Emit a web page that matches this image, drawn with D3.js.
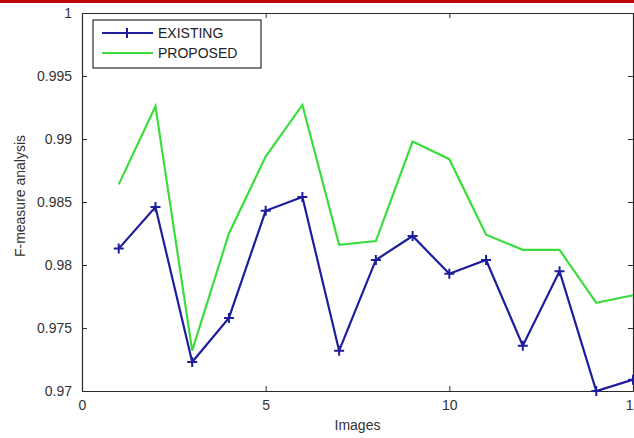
<!DOCTYPE html>
<html>
<head>
<meta charset="utf-8">
<script src="https://cdn.jsdelivr.net/npm/d3@7"></script>
<style>
  body { margin: 0; background: #fff; }
  svg { display: block; font-family: "Liberation Sans", Arial, sans-serif; }
</style>
</head>
<body>
<svg id="chart" width="634" height="438"></svg>
<script>
// image index on x
const images = [1, 2, 3, 4, 5, 6, 7, 8, 9, 10, 11, 12, 13, 14, 15];
const existing = [0.9813, 0.9846, 0.9723, 0.9758, 0.9843, 0.9854, 0.9732, 0.9804, 0.9823, 0.9793, 0.9804, 0.9736, 0.9795, 0.9700, 0.9709];
const proposed = [0.9864, 0.9926, 0.9732, 0.9825, 0.9886, 0.9927, 0.9816, 0.9819, 0.9898, 0.9884, 0.9824, 0.9812, 0.9812, 0.9770, 0.9776];
const xTicks = [0, 5, 10, 15];
const yTicks = [0.97, 0.975, 0.98, 0.985, 0.99, 0.995, 1];
const seriesNames = ["EXISTING", "PROPOSED"];

const svg = d3.select("#chart");
const plotL = 82, plotR = 633, plotT = 13, plotB = 391;

// red rule across the top of the page
svg.append("rect").attr("x", 0).attr("y", 0).attr("width", 634).attr("height", 3).attr("fill", "#c0080c");

var scaleX = d3.scaleLinear().domain([0, 15]).range([plotL, plotR]);
var scaleY = d3.scaleLinear().domain([0.97, 1]).range([plotB, plotT]);

const axisColor = "#2b2b2b";

// bottom axis, ticks pointing inward
const gx = svg.append("g").attr("transform", `translate(0,${plotB})`)
  .call(d3.axisBottom(scaleX).tickValues(xTicks).tickSizeInner(-5).tickSizeOuter(0).tickPadding(9).tickFormat(d3.format("d")));
// top axis, no labels
const gxt = svg.append("g").attr("transform", `translate(0,${plotT})`)
  .call(d3.axisTop(scaleX).tickValues(xTicks).tickSizeInner(-5).tickSizeOuter(0).tickFormat(""));
// left axis
const gy = svg.append("g").attr("transform", `translate(${plotL},0)`)
  .call(d3.axisLeft(scaleY).tickValues(yTicks).tickSizeInner(-5).tickSizeOuter(0).tickPadding(10)
    .tickFormat(d => d === 1 ? "1" : String(+d.toFixed(3))));
// right axis
const gyr = svg.append("g").attr("transform", `translate(${plotR},0)`)
  .call(d3.axisRight(scaleY).tickValues(yTicks).tickSizeInner(-5).tickSizeOuter(0).tickFormat(""));

[gx, gxt, gy, gyr].forEach(g => {
  g.select(".domain").attr("stroke", axisColor).attr("stroke-width", 1.2);
  g.selectAll(".tick line").attr("stroke", axisColor);
  g.selectAll(".tick text").attr("fill", "#333").style("font-size", "14px").style("font-family", "Liberation Sans, Arial, sans-serif");
});

// axis titles
svg.append("text").attr("x", (plotL + plotR) / 2).attr("y", 430)
  .attr("text-anchor", "middle").attr("fill", "#333").style("font-size", "14px").text("Images");
svg.append("text").attr("transform", `translate(25,196) rotate(-90)`)
  .attr("text-anchor", "middle").attr("fill", "#333").style("font-size", "14px").text("F-measure analysis");

const blue = "#1e1e9c", green = "#3ddc3d";

var line = d3.line()
  .x(function (d, i) { return scaleX(images[i]); })
  .y(function (d) { return scaleY(d); });

svg.append("path").datum(proposed)
  .attr("fill", "none").attr("stroke", green).attr("stroke-width", 2.2)
  .attr("d", line);

svg.append("path").datum(existing)
  .attr("fill", "none").attr("stroke", blue).attr("stroke-width", 2.2)
  .attr("d", line);

// plus markers
const m = 5;
svg.append("g").selectAll("path").data(existing).join("path")
  .attr("d", (d, i) => {
    const x = scaleX(images[i]), y = scaleY(d);
    return `M${x - m},${y}H${x + m}M${x},${y - m}V${y + m}`;
  })
  .attr("stroke", blue).attr("stroke-width", 2);

// legend
const lg = svg.append("g");
lg.append("rect").attr("x", 93).attr("y", 20).attr("width", 168).attr("height", 48)
  .attr("fill", "#fff").attr("stroke", axisColor).attr("stroke-width", 1.2);
[blue, green].forEach((c, i) => {
  const y = 33 + i * 20;
  lg.append("line").attr("x1", 102).attr("x2", 153).attr("y1", y).attr("y2", y)
    .attr("stroke", c).attr("stroke-width", 2.2);
  if (i === 0) {
    lg.append("path").attr("d", `M127,${y - m}V${y + m}M${127 - m},${y}H${127 + m}`)
      .attr("stroke", c).attr("stroke-width", 2);
  }
  lg.append("text").attr("x", 158).attr("y", y + 5).attr("fill", "#222")
    .style("font-size", "14px").text(seriesNames[i]);
});
</script>
</body>
</html>
